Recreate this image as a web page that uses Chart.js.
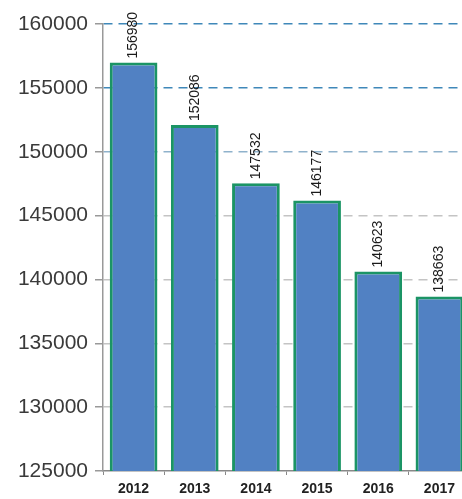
<!DOCTYPE html>
<html>
<head>
<meta charset="utf-8">
<script src="https://cdn.jsdelivr.net/npm/chart.js@4/dist/chart.umd.min.js"></script>
<style>
  html, body { margin: 0; padding: 0; background: #fff; overflow: hidden; }
  #wrap { width: 470px; height: 499px; }
</style>
</head>
<body>
<div id="wrap"><canvas id="chart"></canvas></div>
<script>
"use strict";
var years  = ['2012', '2013', '2014', '2015', '2016', '2017'];
var counts = [156980, 152086, 147532, 146177, 140623, 138663];
var yMin = 125000, yMax = 160000, yStep = 5000;

// rotated value labels above each bar
var barLabels = {
    id: 'barLabels',
    afterDatasetsDraw: function(chart) {
        var ctx = chart.ctx;
        var meta = chart.getDatasetMeta(0);
        ctx.save();
        ctx.font = '14px "Liberation Sans", Arial, sans-serif';
        ctx.fillStyle = '#1a1a1a';
        ctx.textAlign = 'left';
        ctx.textBaseline = 'middle';
        meta.data.forEach(function(bar, i) {
            ctx.save();
            ctx.translate(bar.x, bar.y - 4);
            ctx.rotate(-Math.PI / 2);
            ctx.fillText(String(counts[i]), 0, 0);
            ctx.restore();
        });
        ctx.restore();
    }
};

new Chart(document.getElementById('chart').getContext('2d'), {
    type: 'bar',
    data: {
        labels: years,
        datasets: [{
            data: counts,
            backgroundColor: '#5181c3',
            borderColor: '#1b9465',
            borderWidth: 3,
            barPercentage: 0.78,
            categoryPercentage: 1
        }]
    },
    options: {
        responsive: true,
        maintainAspectRatio: false,
        animation: false,
        layout: { padding: { top: 24, left: 0, right: 0, bottom: 0 } },
        plugins: { legend: { display: false }, tooltip: { enabled: false } },
        scales: {
            x: {
                afterFit: function(scale) { scale.height = 28; },
                grid: {
                    display: true,
                    drawOnChartArea: false,
                    drawTicks: true,
                    tickLength: 4,
                    color: '#888'
                },
                border: { display: true, color: '#888', width: 1.5 },
                ticks: {
                    color: '#222',
                    padding: 6,
                    font: { family: '"Liberation Sans", Arial, sans-serif', size: 14, weight: 'bold' }
                }
            },
            y: {
                min: yMin,
                max: yMax,
                afterFit: function(scale) { scale.width = 103; },
                ticks: {
                    stepSize: yStep,
                    color: '#3a3a3a',
                    padding: 7,
                    font: { family: '"Liberation Sans", Arial, sans-serif', size: 21 },
                    callback: function(v) { return String(v); }
                },
                grid: {
                    drawTicks: true,
                    tickLength: 8,
                    tickColor: '#999',
                    color: function(c) {
                        if (c.tick && c.tick.value >= 155000) return '#3f88b9';
                        if (c.tick && c.tick.value >= 150000) return '#8fb2cc';
                        if (c.tick && c.tick.value === yMin) return 'rgba(0,0,0,0)';
                        return '#c4c4c4';
                    },
                    lineWidth: 1.5
                },
                border: { display: true, color: '#999', width: 1.5, dash: [9, 6] }
            }
        }
    },
    plugins: [barLabels]
});
</script>
</body>
</html>
